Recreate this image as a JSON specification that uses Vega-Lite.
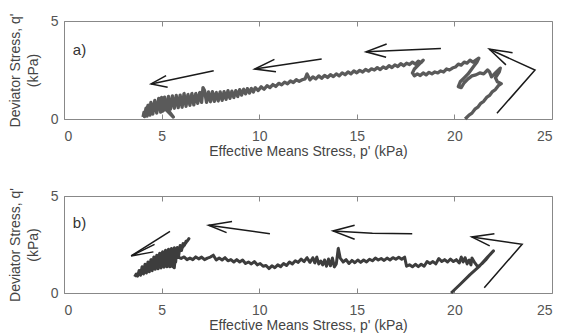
{
  "$schema": "https://vega.github.io/schema/vega-lite/v6.json",
  "padding": {"left": 7, "top": 12, "right": 5, "bottom": 2},
  "bounds": "flush",
  "spacing": 77,
  "datasets": {
    "pathA": [
      {"x":20.55,"y":0.0},{"x":20.75,"y":0.2},{"x":20.9,"y":0.3},{"x":21.05,"y":0.5},{"x":21.2,"y":0.6},{"x":21.35,"y":0.8},{"x":21.5,"y":0.9},{"x":21.65,"y":1.1},{"x":21.8,"y":1.2},{"x":21.95,"y":1.4},{"x":22.1,"y":1.5},{"x":22.25,"y":1.7},{"x":22.4,"y":1.8},{"x":22.2,"y":1.9},{"x":22.1,"y":2.1},{"x":22.3,"y":2.4},{"x":22.35,"y":2.6},{"x":22.1,"y":2.35},{"x":21.9,"y":2.15},{"x":21.8,"y":2.4},{"x":21.7,"y":2.5},{"x":21.5,"y":2.3},{"x":21.3,"y":2.35},{"x":21.1,"y":2.25},{"x":20.9,"y":2.2},{"x":20.7,"y":2.05},{"x":20.5,"y":1.85},{"x":20.35,"y":1.6},{"x":20.2,"y":1.65},{"x":20.3,"y":1.9},{"x":20.5,"y":2.1},{"x":20.7,"y":2.3},{"x":20.85,"y":2.5},{"x":21.0,"y":2.7},{"x":21.15,"y":2.9},{"x":21.25,"y":3.1},{"x":21.1,"y":3.0},{"x":20.95,"y":2.9},{"x":20.8,"y":3.0},{"x":20.65,"y":2.85},{"x":20.5,"y":2.9},{"x":20.35,"y":2.75},{"x":20.2,"y":2.8},{"x":20.05,"y":2.65},{"x":19.9,"y":2.6},{"x":19.75,"y":2.5},{"x":19.6,"y":2.55},{"x":19.45,"y":2.4},{"x":19.3,"y":2.45},{"x":19.15,"y":2.35},{"x":19.0,"y":2.4},{"x":18.85,"y":2.3},{"x":18.7,"y":2.38},{"x":18.55,"y":2.25},{"x":18.4,"y":2.35},{"x":18.25,"y":2.22},{"x":18.1,"y":2.3},{"x":17.95,"y":2.2},{"x":17.85,"y":2.35},{"x":17.95,"y":2.55},{"x":18.1,"y":2.7},{"x":18.25,"y":2.85},{"x":18.4,"y":3.0},{"x":18.3,"y":2.88},{"x":18.15,"y":2.95},{"x":18.0,"y":2.8},{"x":17.85,"y":2.9},{"x":17.7,"y":2.78},{"x":17.55,"y":2.85},{"x":17.4,"y":2.72},{"x":17.25,"y":2.82},{"x":17.1,"y":2.68},{"x":16.95,"y":2.76},{"x":16.8,"y":2.62},{"x":16.65,"y":2.72},{"x":16.5,"y":2.58},{"x":16.35,"y":2.66},{"x":16.2,"y":2.52},{"x":16.05,"y":2.62},{"x":15.9,"y":2.5},{"x":15.75,"y":2.56},{"x":15.6,"y":2.44},{"x":15.45,"y":2.53},{"x":15.3,"y":2.4},{"x":15.15,"y":2.48},{"x":15.0,"y":2.36},{"x":14.85,"y":2.45},{"x":14.7,"y":2.3},{"x":14.55,"y":2.4},{"x":14.4,"y":2.26},{"x":14.25,"y":2.35},{"x":14.1,"y":2.2},{"x":13.95,"y":2.3},{"x":13.8,"y":2.16},{"x":13.65,"y":2.26},{"x":13.5,"y":2.12},{"x":13.35,"y":2.22},{"x":13.2,"y":2.08},{"x":13.05,"y":2.2},{"x":12.9,"y":2.05},{"x":12.75,"y":2.15},{"x":12.6,"y":2.0},{"x":12.45,"y":2.3},{"x":12.35,"y":2.05},{"x":12.2,"y":2.0},{"x":12.05,"y":1.92},{"x":11.9,"y":2.0},{"x":11.75,"y":1.86},{"x":11.6,"y":1.94},{"x":11.45,"y":1.8},{"x":11.3,"y":1.88},{"x":11.15,"y":1.74},{"x":11.0,"y":1.82},{"x":10.85,"y":1.66},{"x":10.7,"y":1.76},{"x":10.55,"y":1.6},{"x":10.4,"y":1.7},{"x":10.25,"y":1.52},{"x":10.1,"y":1.64},{"x":9.95,"y":1.45},{"x":9.8,"y":1.6},{"x":9.7,"y":1.38},{"x":9.6,"y":1.56},{"x":9.5,"y":1.32},{"x":9.4,"y":1.55},{"x":9.3,"y":1.28},{"x":9.2,"y":1.52},{"x":9.1,"y":1.22},{"x":9.0,"y":1.5},{"x":8.9,"y":1.15},{"x":8.8,"y":1.45},{"x":8.7,"y":1.1},{"x":8.6,"y":1.42},{"x":8.5,"y":1.05},{"x":8.4,"y":1.45},{"x":8.3,"y":1.0},{"x":8.2,"y":1.4},{"x":8.1,"y":0.95},{"x":8.0,"y":1.38},{"x":7.9,"y":0.92},{"x":7.8,"y":1.35},{"x":7.7,"y":0.9},{"x":7.6,"y":1.4},{"x":7.5,"y":0.88},{"x":7.4,"y":1.38},{"x":7.3,"y":0.85},{"x":7.2,"y":1.45},{"x":7.12,"y":1.6},{"x":7.05,"y":0.85},{"x":6.95,"y":1.35},{"x":6.85,"y":0.8},{"x":6.75,"y":1.3},{"x":6.65,"y":0.72},{"x":6.55,"y":1.3},{"x":6.45,"y":0.7},{"x":6.35,"y":1.25},{"x":6.25,"y":0.65},{"x":6.15,"y":1.3},{"x":6.05,"y":0.6},{"x":5.95,"y":1.22},{"x":5.85,"y":0.58},{"x":5.75,"y":1.2},{"x":5.65,"y":0.55},{"x":5.55,"y":1.18},{"x":5.45,"y":0.5},{"x":5.35,"y":1.15},{"x":5.25,"y":0.45},{"x":5.15,"y":1.12},{"x":5.05,"y":0.4},{"x":5.0,"y":1.1},{"x":5.3,"y":0.5},{"x":5.6,"y":0.1},{"x":5.2,"y":0.5},{"x":4.95,"y":0.35},{"x":4.85,"y":1.05},{"x":4.75,"y":0.3},{"x":4.65,"y":0.95},{"x":4.55,"y":0.25},{"x":4.45,"y":0.85},{"x":4.4,"y":0.2},{"x":4.3,"y":0.7},{"x":4.25,"y":0.15},{"x":4.2,"y":0.55},{"x":4.12,"y":0.12},{"x":4.1,"y":0.35},{"x":4.05,"y":0.1}
    ],
    "pathB": [
      {"x":19.83,"y":0.0},{"x":20.3,"y":0.45},{"x":20.8,"y":0.95},{"x":21.3,"y":1.4},{"x":21.7,"y":1.85},{"x":22.0,"y":2.17},{"x":21.8,"y":1.95},{"x":21.6,"y":1.7},{"x":21.4,"y":1.5},{"x":21.2,"y":1.35},{"x":21.05,"y":1.55},{"x":20.9,"y":1.8},{"x":20.85,"y":1.45},{"x":20.75,"y":1.7},{"x":20.65,"y":1.5},{"x":20.55,"y":1.82},{"x":20.45,"y":1.6},{"x":20.35,"y":1.85},{"x":20.25,"y":1.55},{"x":20.1,"y":1.72},{"x":19.95,"y":1.62},{"x":19.8,"y":1.75},{"x":19.65,"y":1.6},{"x":19.5,"y":1.72},{"x":19.35,"y":1.62},{"x":19.2,"y":1.78},{"x":19.05,"y":1.5},{"x":18.9,"y":1.62},{"x":18.75,"y":1.52},{"x":18.6,"y":1.62},{"x":18.45,"y":1.38},{"x":18.3,"y":1.48},{"x":18.15,"y":1.36},{"x":18.0,"y":1.48},{"x":17.85,"y":1.35},{"x":17.7,"y":1.45},{"x":17.55,"y":1.38},{"x":17.45,"y":1.85},{"x":17.3,"y":1.74},{"x":17.15,"y":1.84},{"x":17.0,"y":1.74},{"x":16.85,"y":1.82},{"x":16.7,"y":1.7},{"x":16.55,"y":1.8},{"x":16.4,"y":1.68},{"x":16.25,"y":1.78},{"x":16.1,"y":1.7},{"x":15.95,"y":1.8},{"x":15.8,"y":1.66},{"x":15.65,"y":1.74},{"x":15.5,"y":1.6},{"x":15.35,"y":1.7},{"x":15.2,"y":1.58},{"x":15.05,"y":1.7},{"x":14.9,"y":1.56},{"x":14.75,"y":1.68},{"x":14.6,"y":1.52},{"x":14.45,"y":1.72},{"x":14.3,"y":1.6},{"x":14.15,"y":1.8},{"x":14.05,"y":2.3},{"x":13.95,"y":1.5},{"x":13.85,"y":1.35},{"x":13.75,"y":1.8},{"x":13.65,"y":1.4},{"x":13.55,"y":1.75},{"x":13.45,"y":1.38},{"x":13.35,"y":1.7},{"x":13.25,"y":1.45},{"x":13.15,"y":1.65},{"x":13.05,"y":1.5},{"x":12.95,"y":1.85},{"x":12.85,"y":1.55},{"x":12.75,"y":1.82},{"x":12.6,"y":1.58},{"x":12.45,"y":1.82},{"x":12.3,"y":1.62},{"x":12.15,"y":1.75},{"x":12.0,"y":1.58},{"x":11.85,"y":1.66},{"x":11.7,"y":1.5},{"x":11.55,"y":1.6},{"x":11.4,"y":1.42},{"x":11.25,"y":1.52},{"x":11.1,"y":1.36},{"x":10.95,"y":1.45},{"x":10.8,"y":1.3},{"x":10.65,"y":1.4},{"x":10.5,"y":1.26},{"x":10.35,"y":1.42},{"x":10.2,"y":1.38},{"x":10.05,"y":1.52},{"x":9.9,"y":1.45},{"x":9.75,"y":1.62},{"x":9.6,"y":1.5},{"x":9.45,"y":1.6},{"x":9.3,"y":1.52},{"x":9.15,"y":1.7},{"x":9.0,"y":1.6},{"x":8.85,"y":1.72},{"x":8.7,"y":1.6},{"x":8.55,"y":1.72},{"x":8.4,"y":1.66},{"x":8.25,"y":1.82},{"x":8.1,"y":1.7},{"x":7.95,"y":1.8},{"x":7.8,"y":1.7},{"x":7.65,"y":1.95},{"x":7.5,"y":1.85},{"x":7.35,"y":1.8},{"x":7.2,"y":1.72},{"x":7.05,"y":1.85},{"x":6.9,"y":1.76},{"x":6.75,"y":1.86},{"x":6.6,"y":1.72},{"x":6.45,"y":1.8},{"x":6.3,"y":1.72},{"x":6.15,"y":1.86},{"x":6.0,"y":1.78},{"x":5.85,"y":1.85},{"x":5.7,"y":1.78},{"x":5.65,"y":1.3},{"x":5.6,"y":1.7},
      {"x":6.4,"y":2.8},{"x":6.32,"y":2.68},{"x":6.25,"y":2.67},{"x":6.17,"y":2.46},{"x":6.1,"y":2.55},{"x":6.02,"y":2.19},{"x":5.95,"y":2.45},{"x":5.87,"y":1.89},{"x":5.8,"y":2.35},{"x":5.72,"y":1.59},{"x":5.65,"y":2.33},{"x":5.57,"y":1.35},{"x":5.5,"y":2.3},{"x":5.42,"y":1.35},{"x":5.35,"y":2.25},{"x":5.27,"y":1.35},{"x":5.2,"y":2.2},{"x":5.12,"y":1.33},{"x":5.05,"y":2.13},{"x":4.97,"y":1.29},{"x":4.9,"y":2.05},{"x":4.82,"y":1.25},{"x":4.75,"y":1.95},{"x":4.67,"y":1.22},{"x":4.6,"y":1.85},{"x":4.52,"y":1.15},{"x":4.45,"y":1.72},{"x":4.37,"y":1.09},{"x":4.3,"y":1.6},{"x":4.22,"y":1.03},{"x":4.15,"y":1.48},{"x":4.07,"y":0.98},{"x":4.0,"y":1.35},{"x":3.92,"y":0.92},{"x":3.85,"y":1.16},{"x":3.77,"y":0.87},{"x":3.7,"y":0.98},{"x":3.62,"y":0.84}
    ],
    "arrowsA": [
      {"seg":"a1s","x":7.67,"y":2.46},{"seg":"a1s","x":4.46,"y":1.79},
      {"seg":"a1h","x":5.23,"y":2.21},{"seg":"a1h","x":4.46,"y":1.79},{"seg":"a1h","x":5.31,"y":1.62},
      {"seg":"a2s","x":13.2,"y":3.06},{"seg":"a2s","x":9.77,"y":2.55},
      {"seg":"a2h","x":10.78,"y":3.04},{"seg":"a2h","x":9.77,"y":2.55},{"seg":"a2h","x":10.86,"y":2.41},
      {"seg":"a3s","x":19.31,"y":3.6},{"seg":"a3s","x":15.47,"y":3.43},
      {"seg":"a3h","x":16.53,"y":3.83},{"seg":"a3h","x":15.47,"y":3.43},{"seg":"a3h","x":16.5,"y":3.15},
      {"seg":"a4s","x":22.18,"y":0.29},{"seg":"a4s","x":24.13,"y":2.5},{"seg":"a4s","x":21.79,"y":3.56},
      {"seg":"a4h","x":22.98,"y":3.38},{"seg":"a4h","x":21.79,"y":3.56},{"seg":"a4h","x":22.64,"y":2.76}
    ],
    "arrowsB": [
      {"seg":"b1s","x":5.43,"y":3.18},{"seg":"b1s","x":3.44,"y":1.91},
      {"seg":"b1h","x":4.64,"y":2.51},{"seg":"b1h","x":3.44,"y":1.91},{"seg":"b1h","x":4.58,"y":2.12},
      {"seg":"b2s","x":10.55,"y":3.06},{"seg":"b2s","x":7.41,"y":3.49},
      {"seg":"b2h","x":8.61,"y":3.69},{"seg":"b2h","x":7.41,"y":3.49},{"seg":"b2h","x":8.33,"y":3.11},
      {"seg":"b3s","x":17.84,"y":3.06},{"seg":"b3s","x":15.8,"y":3.08},{"seg":"b3s","x":13.78,"y":3.2},
      {"seg":"b3h","x":14.89,"y":3.49},{"seg":"b3h","x":13.78,"y":3.2},{"seg":"b3h","x":14.89,"y":2.77},
      {"seg":"b4s","x":21.53,"y":0.27},{"seg":"b4s","x":23.47,"y":2.51},{"seg":"b4s","x":20.89,"y":2.89},
      {"seg":"b4h","x":22.05,"y":3.06},{"seg":"b4h","x":20.89,"y":2.89},{"seg":"b4h","x":21.81,"y":2.43}
    ]
  },
  "vconcat": [
    {
      "width": 488, "height": 98,
      "resolve": {"axis": {"x": "independent"}},
      "layer": [
        {
          "data": {"name": "pathA"},
          "mark": {"type": "line", "color": "#5a5a5a", "strokeWidth": 3.3, "strokeJoin": "round"},
          "encoding": {
            "x": {"field": "x", "type": "quantitative", "scale": {"domain": [0, 25], "nice": false, "zero": false},
                  "axis": {"values": [0,5,10,15,20,25], "title": "Effective Means Stress, p' (kPa)", "orient": "bottom"}},
            "y": {"field": "y", "type": "quantitative", "scale": {"domain": [0, 5], "nice": false},
                  "axis": {"values": [0,5], "title": ["Deviator Stress, q'", "(kPa)"]}},
            "order": {"value": null}
          }
        },
        {
          "data": {"name": "arrowsA"},
          "mark": {"type": "line", "color": "#1a1a1a", "strokeWidth": 1.5},
          "encoding": {
            "x": {"field": "x", "type": "quantitative",
                  "axis": {"orient": "top", "values": [0,5,10,15,20,25], "labels": false, "title": null}},
            "y": {"field": "y", "type": "quantitative"},
            "detail": {"field": "seg"},
            "order": {"value": null}
          }
        },
        {
          "data": {"values": [{"x": 0.45, "y": 3.5, "t": "a)"}]},
          "mark": {"type": "text", "align": "left", "baseline": "middle", "fontSize": 15, "color": "#333333", "font": "Liberation Sans"},
          "encoding": {
            "x": {"field": "x", "type": "quantitative", "axis": null},
            "y": {"field": "y", "type": "quantitative"},
            "text": {"field": "t"}
          }
        }
      ]
    },
    {
      "width": 488, "height": 97,
      "resolve": {"axis": {"x": "independent"}},
      "layer": [
        {
          "data": {"name": "pathB"},
          "mark": {"type": "line", "color": "#3d3d3d", "strokeWidth": 3.0, "strokeJoin": "round"},
          "encoding": {
            "x": {"field": "x", "type": "quantitative", "scale": {"domain": [0, 25], "nice": false, "zero": false},
                  "axis": {"values": [0,5,10,15,20,25], "title": "Effective Means Stress, p' (kPa)", "orient": "bottom"}},
            "y": {"field": "y", "type": "quantitative", "scale": {"domain": [0, 5], "nice": false},
                  "axis": {"values": [0,5], "title": ["Deviator Stress, q'", "(kPa)"]}},
            "order": {"value": null}
          }
        },
        {
          "data": {"name": "arrowsB"},
          "mark": {"type": "line", "color": "#1a1a1a", "strokeWidth": 1.5},
          "encoding": {
            "x": {"field": "x", "type": "quantitative",
                  "axis": {"orient": "top", "values": [0,5,10,15,20,25], "labels": false, "title": null}},
            "y": {"field": "y", "type": "quantitative"},
            "detail": {"field": "seg"},
            "order": {"value": null}
          }
        },
        {
          "data": {"values": [{"x": 0.45, "y": 3.6, "t": "b)"}]},
          "mark": {"type": "text", "align": "left", "baseline": "middle", "fontSize": 15, "color": "#333333", "font": "Liberation Sans"},
          "encoding": {
            "x": {"field": "x", "type": "quantitative", "axis": null},
            "y": {"field": "y", "type": "quantitative"},
            "text": {"field": "t"}
          }
        }
      ]
    }
  ],
  "config": {
    "font": "Liberation Sans",
    "view": {"stroke": "#888888", "strokeWidth": 1},
    "axis": {
      "grid": false, "domain": false,
      "tickSize": -5, "tickColor": "#888888", "tickWidth": 1,
      "labelFont": "Liberation Sans", "labelFontSize": 14, "labelColor": "#555555", "labelPadding": 15,
      "titleFont": "Liberation Sans", "titleFontSize": 14, "titleFontWeight": "normal", "titleColor": "#444444",
      "titlePadding": 1
    },
    "axisY": {"labelPadding": 11, "titlePadding": 10, "titleLineHeight": 18}
  }
}
